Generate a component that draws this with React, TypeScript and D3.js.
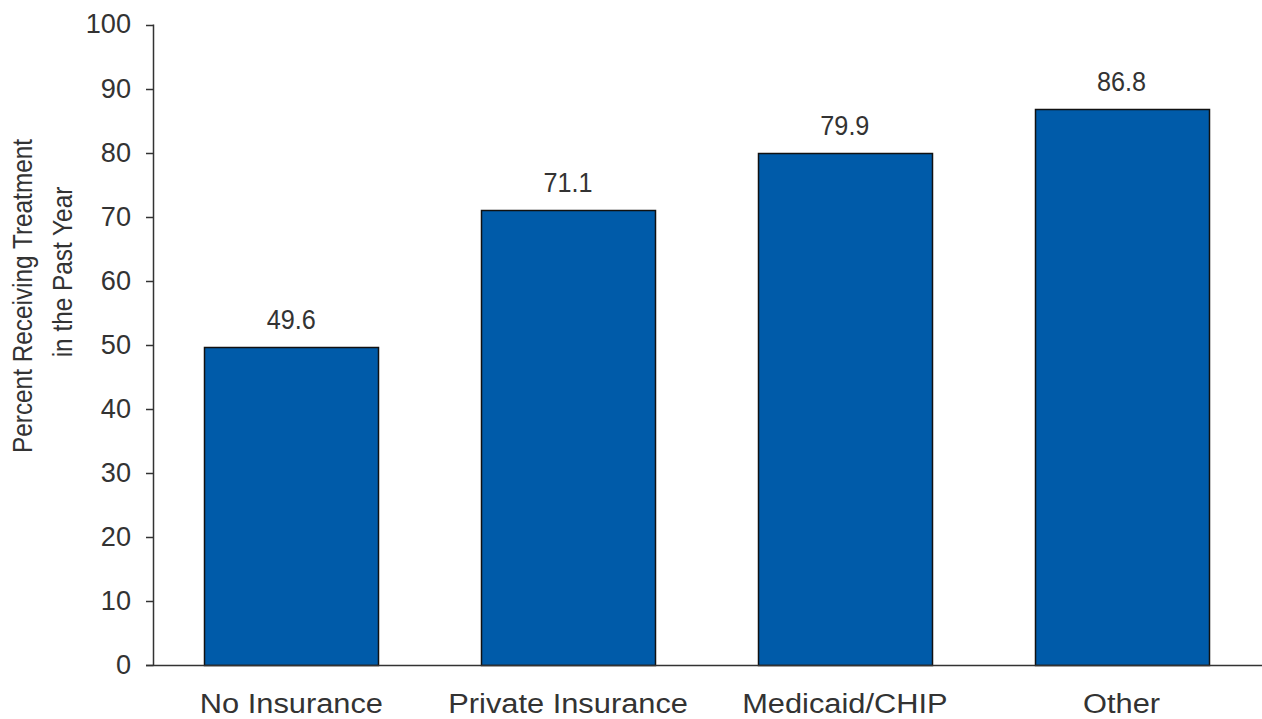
import React from "react";
import * as d3 from "d3";

const categories: string[] = ["No Insurance", "Private Insurance", "Medicaid/CHIP", "Other"];
const values: number[] = [49.6, 71.1, 79.9, 86.8];
const valueLabels: string[] = ["49.6", "71.1", "79.9", "86.8"];
const yTicks: number[] = [0, 10, 20, 30, 40, 50, 60, 70, 80, 90, 100];
const yTitle: string[] = ["Percent Receiving Treatment", "in the Past Year"];

const W = 1262;
const H = 719;
const FONT = "'Liberation Sans', Arial, sans-serif";
const TEXT = "#333";

function sx(cx: number, k: number) {
  return `translate(${cx},0) scale(${k},1) translate(${-cx},0)`;
}

export default function App() {
  const x = d3.scaleBand<string>().domain(categories).range([153, 1260]).paddingInner(0.371).paddingOuter(0.1855);
  const y = d3.scaleLinear().domain([0, 100]).range([665, 24.5]);
  const axisX = 153.5;
  const titleCenters = [296, 272];
  return (
    <svg width={W} height={H} style={{ position: "absolute", left: 0, top: 0, background: "#fff" }}>
      <rect x={0} y={0} width={W} height={H} fill="#fff" />
      {categories.map((c, i) => {
        const cx = x(c)! + x.bandwidth() / 2;
        return (
          <g key={c}>
            <rect
              x={Math.round(x(c)!) + 0.5}
              y={Math.round(y(values[i])) + 0.5}
              width={Math.round(x.bandwidth())}
              height={Math.round(y(0)) - Math.round(y(values[i]))}
              fill="#005BA9"
              stroke="#111"
              strokeWidth={1.5}
            />
            <text
              x={cx}
              y={y(values[i]) - 18}
              textAnchor="middle"
              fontFamily={FONT}
              fontSize={28}
              fill={TEXT}
              transform={sx(cx, 0.9)}
            >
              {valueLabels[i]}
            </text>
            <text
              x={cx}
              y={713}
              textAnchor="middle"
              fontFamily={FONT}
              fontSize={28}
              fill={TEXT}
              transform={sx(cx, 1.1)}
            >
              {c}
            </text>
          </g>
        );
      })}
      <line x1={axisX} x2={axisX} y1={y(100)} y2={y(0) + 0.5} stroke="#333" strokeWidth={1.5} />
      <line x1={146} x2={W} y1={y(0) + 0.5} y2={y(0) + 0.5} stroke="#333" strokeWidth={1.5} />
      {yTicks.map((t) => (
        <g key={t}>
          <line x1={146} x2={axisX} y1={Math.round(y(t)) + 0.5} y2={Math.round(y(t)) + 0.5} stroke="#333" strokeWidth={1.5} />
          <text
            x={131}
            y={y(t) + 9}
            textAnchor="end"
            fontFamily={FONT}
            fontSize={28}
            fill={TEXT}
            transform={sx(131, 0.97)}
          >
            {t}
          </text>
        </g>
      ))}
      {yTitle.map((s, i) => (
        <g key={s} transform={`translate(${32 + i * 40},${titleCenters[i]}) rotate(-90) scale(0.87,1)`}>
          <text x={0} y={0} textAnchor="middle" fontFamily={FONT} fontSize={28} fill={TEXT}>
            {s}
          </text>
        </g>
      ))}
    </svg>
  );
}
